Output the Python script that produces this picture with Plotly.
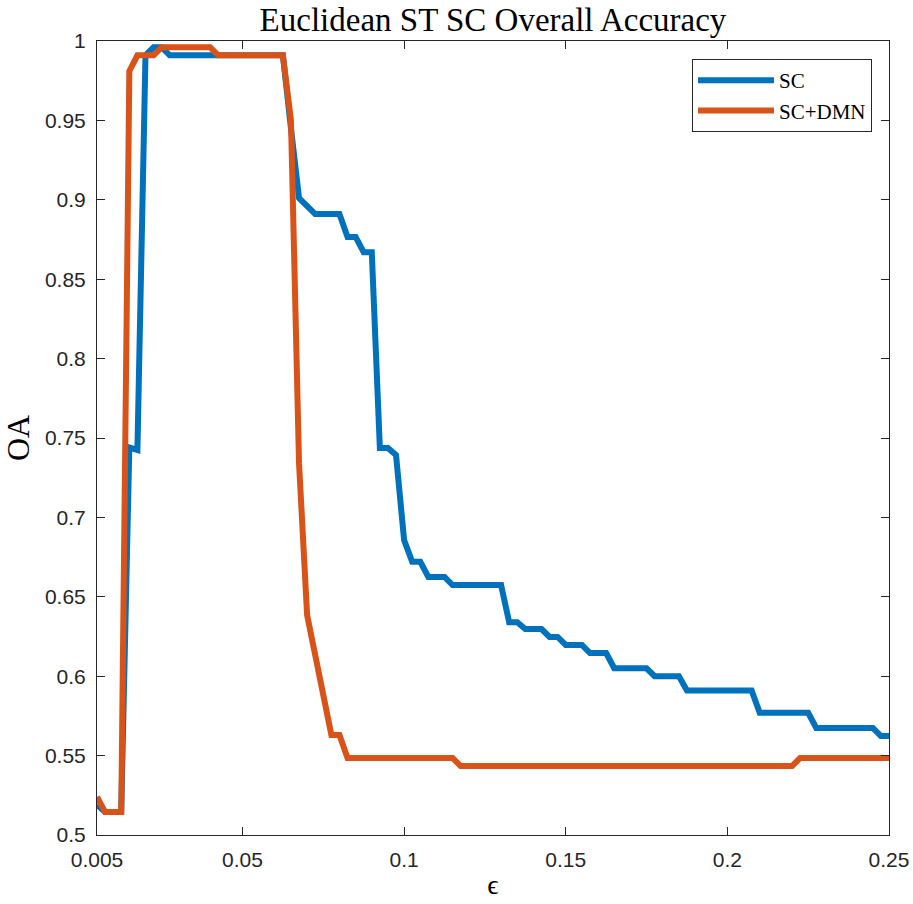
import plotly.graph_objects as go

# SC series (epsilon, overall accuracy) at breakpoints
sc_eps = [0.005, 0.0075, 0.0125, 0.015, 0.0175, 0.02, 0.0225, 0.025, 0.0275, 0.0625,
          0.065, 0.0675, 0.07, 0.0725, 0.08, 0.0825, 0.085, 0.0875, 0.09, 0.0925,
          0.095, 0.0975, 0.1, 0.1025, 0.105, 0.1075, 0.1125, 0.115, 0.13, 0.1325,
          0.135, 0.1375, 0.1425, 0.145, 0.1475, 0.15, 0.155, 0.1575, 0.1625, 0.165,
          0.175, 0.1775, 0.185, 0.1875, 0.2075, 0.21, 0.225, 0.2275, 0.245, 0.2475, 0.25]
sc_oa = [0.519, 0.5145, 0.5145, 0.744, 0.7425, 0.991, 0.996, 0.996, 0.991, 0.991,
         0.945, 0.901, 0.896, 0.891, 0.891, 0.8766, 0.8766, 0.867, 0.867, 0.7437,
         0.7437, 0.7393, 0.6857, 0.672, 0.672, 0.6625, 0.6625, 0.6574, 0.6574, 0.634,
         0.634, 0.6297, 0.6297, 0.6247, 0.6247, 0.6197, 0.6197, 0.6146, 0.6146, 0.605,
         0.605, 0.600, 0.600, 0.591, 0.591, 0.577, 0.577, 0.5674, 0.5674, 0.5623, 0.5623]

# SC+DMN series
dmn_eps = [0.005, 0.0075, 0.0125, 0.015, 0.0175, 0.0225, 0.025, 0.04, 0.0425, 0.0625,
           0.065, 0.0675, 0.07, 0.0725, 0.075, 0.0775, 0.08, 0.0825, 0.115, 0.1175,
           0.22, 0.2225, 0.25]
dmn_oa = [0.524, 0.5145, 0.5145, 0.981, 0.991, 0.991, 0.996, 0.996, 0.991, 0.991,
          0.950, 0.734, 0.6385, 0.612, 0.585, 0.563, 0.563, 0.5485, 0.5485, 0.5434,
          0.5434, 0.5485, 0.5485]

x_ticks = [0.005, 0.05, 0.1, 0.15, 0.2, 0.25]
x_ticklabels = ["0.005", "0.05", "0.1", "0.15", "0.2", "0.25"]
y_ticks = [0.5, 0.55, 0.6, 0.65, 0.7, 0.75, 0.8, 0.85, 0.9, 0.95, 1.0]
y_ticklabels = ["0.5", "0.55", "0.6", "0.65", "0.7", "0.75", "0.8", "0.85", "0.9", "0.95", "1"]

BLUE = "#0072BD"
ORANGE = "#D95319"
AXC = "#262626"
SERIF = "Liberation Serif"
SANS = "Liberation Sans"

W, H = 913, 904
L, R, T, B = 97, 24, 41, 69
pw = W - L - R
ph = H - T - B

fig = go.Figure()
fig.add_trace(go.Scatter(x=sc_eps, y=sc_oa, mode="lines", name="SC",
                         line=dict(color=BLUE, width=6)))
fig.add_trace(go.Scatter(x=dmn_eps, y=dmn_oa, mode="lines", name="SC+DMN",
                         line=dict(color=ORANGE, width=6)))

axis_common = dict(
    showgrid=False, zeroline=False, showline=True, linecolor=AXC, linewidth=1,
    mirror="ticks", ticks="inside", ticklen=8, tickwidth=1, tickcolor=AXC,
    tickfont=dict(family=SANS, size=21, color=AXC),
)

fig.update_layout(
    width=W, height=H,
    margin=dict(l=L, r=R, t=T, b=B, autoexpand=False),
    paper_bgcolor="white", plot_bgcolor="white",
    title=dict(text="Euclidean ST SC Overall Accuracy", x=(L + pw / 2) / W,
               xanchor="center", y=1 - 19 / H, yanchor="middle", yref="container",
               font=dict(family=SERIF, size=33, color="black")),
    xaxis=dict(range=[0.005, 0.25], tickvals=x_ticks, ticktext=x_ticklabels,
               title=dict(text="ϵ", font=dict(family=SERIF, size=28, color="black"), standoff=4),
               ticklabelstandoff=6, **axis_common),
    yaxis=dict(range=[0.5, 1.0], tickvals=y_ticks, ticktext=y_ticklabels,
               title=dict(text="OA", font=dict(family=SERIF, size=32, color="black"), standoff=12),
               ticklabelstandoff=6, **axis_common),
    legend=dict(x=(872 - L) / pw, xanchor="right", y=(T + ph - 59) / ph, yanchor="top",
                bgcolor="white", bordercolor=AXC, borderwidth=1,
                font=dict(family=SERIF, size=21, color="black"),
                itemwidth=76, tracegroupgap=0),
    showlegend=True,
)

fig.write_html("out.html", config={"displayModeBar": False},
               post_script="document.body.style.margin='0px';")
